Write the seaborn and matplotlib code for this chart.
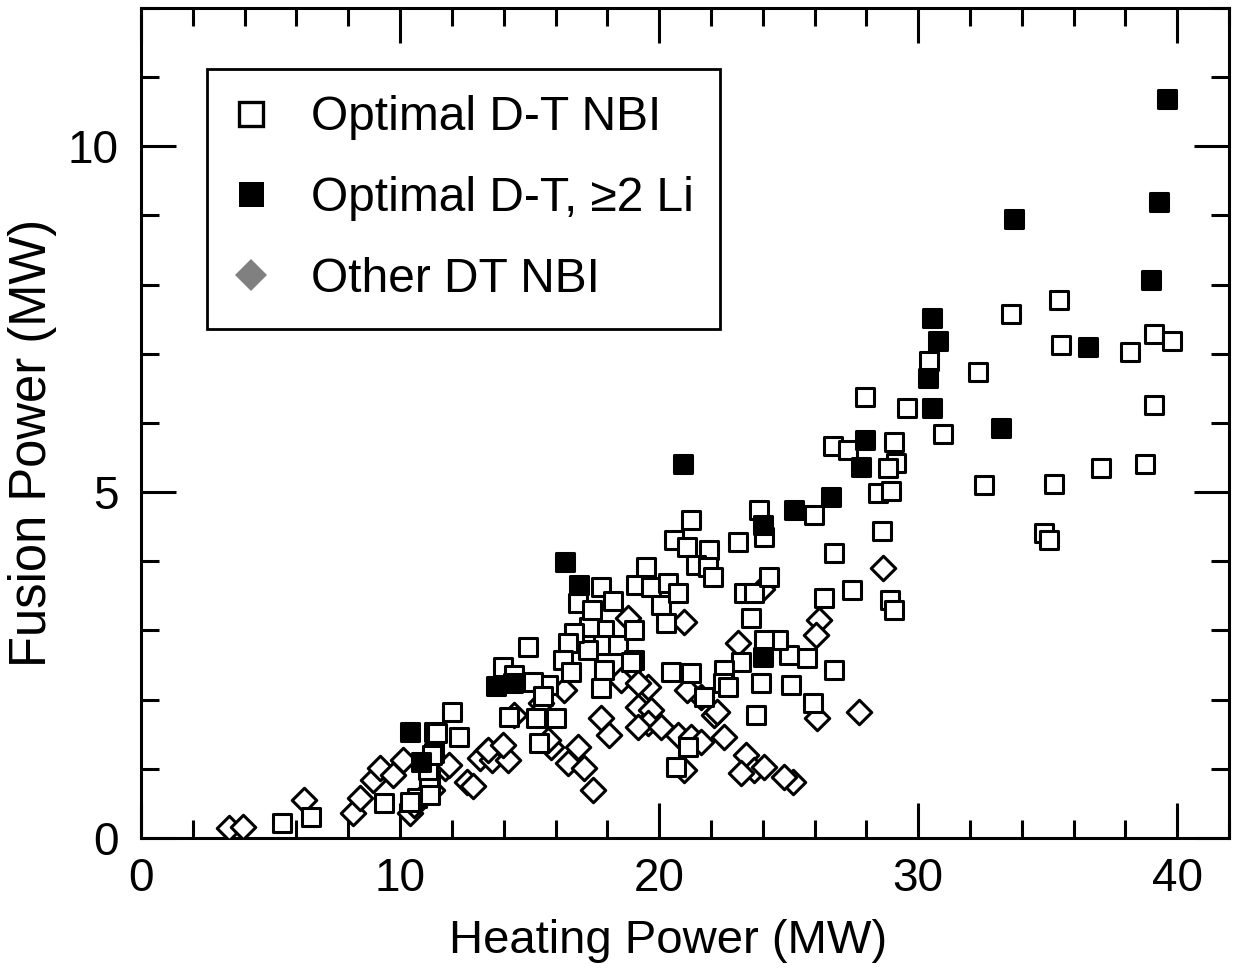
import matplotlib
matplotlib.use("Agg")
import matplotlib.pyplot as plt
from matplotlib.lines import Line2D
from matplotlib.ticker import MultipleLocator
import seaborn as sns
import pandas as pd

# ---------------- data ----------------
# Optimal D-T NBI (open squares)
opt_x = [35.45, 33.60, 35.53, 38.16, 39.09, 39.78, 30.43, 32.32, 27.95, 29.57,
         30.97, 39.09, 26.71, 27.29, 29.07, 29.15, 28.84, 28.45, 28.96, 32.55,
         35.26, 37.07, 38.74, 25.98, 28.61, 34.87, 35.06, 26.75, 27.45, 26.37,
         28.92, 29.07, 26.75, 25.94, 25.71, 25.01, 25.09, 24.59, 23.85, 24.04,
         21.22, 20.57, 21.07, 21.92, 19.48, 19.10, 19.68, 20.33, 20.06, 20.26,
         20.72, 21.42, 21.88, 22.07, 23.04, 23.27, 23.66, 24.24, 23.54, 23.16,
         24.05, 22.50, 22.46, 23.93, 23.74, 21.11, 20.64, 20.45, 21.22, 21.73,
         22.65, 17.86, 17.82, 17.86, 17.74, 18.40, 19.02, 19.02, 17.28, 17.24,
         16.86, 16.70, 16.47, 16.28, 15.70, 15.12, 14.92, 13.96, 15.23, 16.01,
         15.35, 14.19, 12.02, 12.26, 11.29, 11.29, 11.17, 17.74, 18.21, 5.45,
         6.57, 9.36, 10.67, 11.10, 11.06, 11.25, 11.44, 11.17, 10.40, 16.60,
         15.50, 14.40, 18.90, 17.40]
opt_y = [7.78, 7.58, 7.13, 7.03, 7.29, 7.18, 6.90, 6.74, 6.37, 6.21,
         5.84, 6.26, 5.67, 5.61, 5.73, 5.42, 5.35, 4.99, 5.01, 5.11,
         5.12, 5.35, 5.40, 4.67, 4.44, 4.41, 4.31, 4.12, 3.59, 3.47,
         3.44, 3.30, 2.43, 1.95, 2.60, 2.65, 2.21, 2.86, 4.74, 4.35,
         4.60, 4.31, 4.20, 4.17, 3.92, 3.66, 3.63, 3.69, 3.37, 3.11,
         3.54, 3.95, 3.92, 3.78, 4.28, 3.54, 3.54, 3.78, 3.18, 2.55,
         2.86, 2.43, 2.24, 2.24, 1.78, 1.32, 1.03, 2.40, 2.39, 2.04,
         2.18, 3.01, 2.79, 2.43, 2.17, 2.79, 3.01, 2.57, 3.05, 2.72,
         3.40, 2.97, 2.82, 2.57, 2.21, 2.26, 2.76, 2.47, 1.74, 1.74,
         1.37, 1.75, 1.82, 1.46, 1.53, 1.23, 0.84, 3.63, 3.43, 0.22,
         0.30, 0.51, 0.58, 0.84, 0.98, 1.20, 1.52, 0.62, 0.52, 2.40,
         2.05, 2.35, 2.55, 3.30]

# Optimal D-T, >=2 Li (filled squares)
li_x = [39.59, 39.28, 33.71, 38.97, 36.57, 30.54, 30.77, 30.39, 30.54, 33.21,
        27.95, 27.80, 26.64, 25.21, 24.01, 20.92, 16.35, 16.89, 13.69, 14.34,
        10.40, 10.82, 24.01]
li_y = [10.68, 9.20, 8.95, 8.07, 7.10, 7.52, 7.19, 6.65, 6.22, 5.93,
        5.76, 5.37, 4.93, 4.74, 4.53, 5.40, 3.99, 3.66, 2.20, 2.24,
        1.53, 1.10, 2.62]

# Other DT NBI (diamonds)
oth_x = [3.40, 3.94, 6.30, 8.20, 8.47, 8.97, 9.24, 10.13, 10.40, 10.55,
         10.79, 11.25, 11.75, 12.60, 12.83, 13.30, 13.10, 13.53, 20.95, 23.04,
         18.79, 17.74, 18.05, 17.43, 16.86, 16.47, 17.09, 15.81, 13.38, 14.15,
         13.96, 11.87, 16.31, 19.56, 19.17, 19.68, 19.56, 19.17, 20.06, 20.72,
         21.22, 21.61, 22.50, 22.11, 21.61, 20.95, 23.35, 23.66, 24.04, 23.15,
         18.52, 19.17, 15.42, 28.64, 27.72, 26.09, 25.16, 24.82, 26.17, 26.05,
         23.97, 21.07, 22.23, 14.38, 9.74, 15.69]
oth_y = [0.14, 0.16, 0.55, 0.36, 0.58, 0.84, 1.01, 1.13, 0.36, 0.48,
         0.58, 0.69, 1.01, 0.81, 0.75, 1.24, 1.16, 1.13, 3.12, 2.82,
         3.18, 1.74, 1.49, 0.69, 1.32, 1.08, 1.01, 1.32, 1.27, 1.13,
         1.35, 1.06, 2.14, 2.18, 1.90, 1.85, 1.66, 1.61, 1.61, 1.49,
         1.46, 1.39, 1.46, 1.78, 2.04, 0.98, 1.20, 0.98, 1.03, 0.94,
         2.29, 2.24, 1.95, 3.91, 1.82, 1.74, 0.81, 0.88, 3.15, 2.94,
         3.60, 2.14, 1.82, 1.78, 0.91, 1.42]

labels = ["Optimal D-T NBI", "Optimal D-T, \u22652 Li", "Other DT NBI"]
x_label = "Heating Power (MW)"
y_label = "Fusion Power (MW)"

df_opt = pd.DataFrame({"x": opt_x, "y": opt_y})
df_li = pd.DataFrame({"x": li_x, "y": li_y})
df_oth = pd.DataFrame({"x": oth_x, "y": oth_y})

# ---------------- style ----------------
sns.set_theme(style="ticks")
plt.rcParams["font.family"] = ["Liberation Sans", "DejaVu Sans"]
for key in ["text.color", "axes.labelcolor", "xtick.color", "ytick.color",
            "axes.edgecolor"]:
    plt.rcParams[key] = "black"

fig = plt.figure(figsize=(12.33, 9.71), dpi=100)
ax = fig.add_axes([0.1144, 0.137, 0.8824, 0.8548])

lw = 2.2
sns.scatterplot(data=df_oth, x="x", y="y", marker="D", s=155, color="white",
                edgecolor="black", linewidth=lw, ax=ax, zorder=3, legend=False)
sns.scatterplot(data=df_opt, x="x", y="y", marker="s", s=150, color="white",
                edgecolor="black", linewidth=lw, ax=ax, zorder=4, legend=False)
sns.scatterplot(data=df_li, x="x", y="y", marker="s", s=150, color="black",
                edgecolor="black", linewidth=lw, ax=ax, zorder=5, legend=False)

ax.set_xlim(0, 42)
ax.set_ylim(0, 12)
ax.xaxis.set_major_locator(MultipleLocator(10))
ax.xaxis.set_minor_locator(MultipleLocator(2))
ax.yaxis.set_major_locator(MultipleLocator(5))
ax.yaxis.set_minor_locator(MultipleLocator(1))

for sp in ax.spines.values():
    sp.set_visible(True)
    sp.set_linewidth(2.2)
    sp.set_color("black")

ax.tick_params(which="both", direction="in", top=True, right=True,
               color="black", width=2.2, labelsize=33, labelcolor="black")
ax.tick_params(which="major", length=25)
ax.tick_params(which="minor", length=13)
ax.tick_params(axis="y", which="major", pad=16)
ax.tick_params(axis="x", which="major", pad=14)

ax.set_xlabel(x_label, fontsize=34, color="black", labelpad=13)
ax.set_ylabel(y_label, fontsize=36.5, color="black", labelpad=8)
ax.xaxis.label.set_x(0.4844)
ax.yaxis.label.set_y(0.476)

handles = [
    Line2D([], [], linestyle="none", marker="s", markersize=17,
           markerfacecolor="white", markeredgecolor="black", markeredgewidth=2.4),
    Line2D([], [], linestyle="none", marker="s", markersize=18,
           markerfacecolor="black", markeredgecolor="black", markeredgewidth=0),
    Line2D([], [], linestyle="none", marker="D", markersize=16,
           markerfacecolor="#808080", markeredgecolor="#808080", markeredgewidth=0),
]
leg = ax.legend(handles, labels, loc="upper left",
                bbox_to_anchor=(0.0607, 0.9265), borderaxespad=0,
                fontsize=34.5, frameon=True, fancybox=False, framealpha=1,
                edgecolor="black", handlelength=0.735, handletextpad=0.885,
                labelspacing=0.75, borderpad=0.55)
leg.get_frame().set_linewidth(2)
leg.set_zorder(10)
for t in leg.get_texts():
    t.set_color("black")

fig.savefig("out.png", dpi=100, facecolor="white")
